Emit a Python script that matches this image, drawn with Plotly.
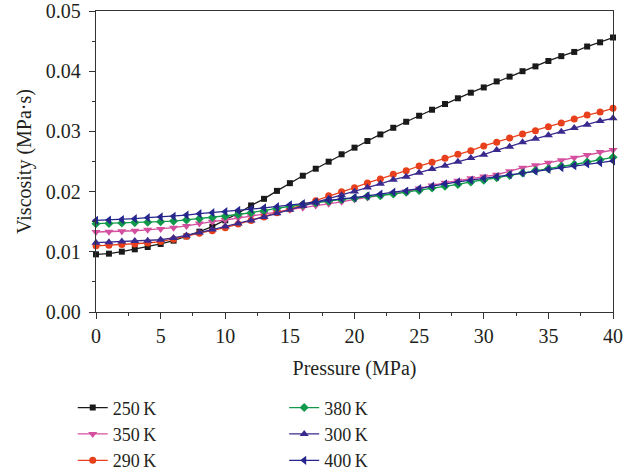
import plotly.graph_objects as go

pressure = list(range(0, 41))

v250 = [0.00958, 0.00969, 0.01002, 0.01041, 0.0108, 0.0113, 0.01185, 0.01257, 0.01334, 0.01417,
        0.01523, 0.0164, 0.0177, 0.0188, 0.02012, 0.0214, 0.02264, 0.0238, 0.02497, 0.0262,
        0.0273, 0.0284, 0.0295, 0.0306, 0.0316, 0.0326, 0.0336, 0.03455, 0.0355, 0.03643,
        0.0373, 0.0383, 0.0391, 0.0400, 0.0408, 0.0417, 0.0425, 0.0432, 0.0441, 0.0448, 0.0456]
v290 = [0.0110, 0.0111, 0.0112, 0.0113, 0.01146, 0.0117, 0.0121, 0.0126, 0.0131, 0.0135,
        0.0140, 0.0146, 0.0152, 0.0158, 0.0165, 0.0171, 0.0178, 0.0185, 0.01932, 0.01999,
        0.02065, 0.02143, 0.0221, 0.02287, 0.02347, 0.02425, 0.02486, 0.02553, 0.0262, 0.0268,
        0.02758, 0.02818, 0.0289, 0.02957, 0.03012, 0.03078, 0.0314, 0.03206, 0.03272, 0.03322, 0.03383]
v300 = [0.01151, 0.0116, 0.0117, 0.0118, 0.01185, 0.0120, 0.0123, 0.0127, 0.0132, 0.0137,
        0.0142, 0.0147, 0.0152, 0.0158, 0.0164, 0.0170, 0.0176, 0.0182, 0.01883, 0.0194,
        0.0200, 0.0207, 0.0213, 0.02198, 0.02248, 0.02314, 0.02375, 0.0243, 0.02497, 0.02558,
        0.02613, 0.0269, 0.02747, 0.02818, 0.02879, 0.02935, 0.02995, 0.03056, 0.03111, 0.03173, 0.03217]
v350 = [0.01329, 0.01333, 0.0134, 0.0135, 0.01365, 0.0138, 0.0140, 0.0143, 0.0147, 0.0150,
        0.01528, 0.0156, 0.0159, 0.0163, 0.0166, 0.0170, 0.0173, 0.0177, 0.0180, 0.0183,
        0.0187, 0.0190, 0.0193, 0.0197, 0.0200, 0.0205, 0.0210, 0.02148, 0.0218, 0.02221,
        0.0225, 0.0228, 0.02336, 0.02397, 0.02437, 0.0248, 0.0252, 0.02563, 0.02608, 0.02658, 0.02691]
v380 = [0.01467, 0.01472, 0.01478, 0.01485, 0.0149, 0.0150, 0.0151, 0.0153, 0.0155, 0.0157,
        0.0159, 0.0162, 0.0165, 0.0168, 0.0172, 0.01755, 0.0178, 0.0181, 0.0184, 0.0187,
        0.0189, 0.0192, 0.0193, 0.0196, 0.0199, 0.0202, 0.0206, 0.0209, 0.0212, 0.0216,
        0.0219, 0.0223, 0.0227, 0.0231, 0.0235, 0.0238, 0.0242, 0.0245, 0.0249, 0.0253, 0.0257]
v400 = [0.01523, 0.01528, 0.01535, 0.0155, 0.01567, 0.0158, 0.0159, 0.0161, 0.01633, 0.0165,
        0.01666, 0.0169, 0.0171, 0.0173, 0.0175, 0.0178, 0.0180, 0.0183, 0.0186, 0.0188,
        0.0190, 0.0193, 0.0196, 0.0199, 0.0201, 0.0205, 0.0209, 0.0213, 0.0216, 0.0219,
        0.0222, 0.0225, 0.0228, 0.0231, 0.0234, 0.0237, 0.0240, 0.0243, 0.0246, 0.0248, 0.0251]

series = [
    ("250\u2009K", v250, "#1a1a1a", "square", 6, "legend"),
    ("350\u2009K", v350, "#d4509f", "triangle-down", 8, "legend"),
    ("290\u2009K", v290, "#e8401c", "circle", 7, "legend"),
    ("380\u2009K", v380, "#10994a", "diamond", 7, "legend2"),
    ("300\u2009K", v300, "#3b2a8e", "triangle-up", 8, "legend2"),
    ("400\u2009K", v400, "#25258d", "triangle-left", 8, "legend2"),
]

FONT = "Liberation Serif"

fig = go.Figure()
for name, vals, color, sym, size, leg in series:
    fig.add_trace(go.Scatter(
        x=pressure, y=vals, name=name, mode="lines+markers",
        line=dict(color=color, width=1.3),
        marker=dict(symbol=sym, size=size, color=color),
        cliponaxis=False, legend=leg,
    ))

axis_common = dict(
    showline=True, linecolor="#333333", linewidth=1.3, mirror=True,
    ticks="outside", ticklen=6, tickwidth=1.3, tickcolor="#333333",
    showgrid=False, zeroline=False,
    tickfont=dict(family=FONT, size=20, color="#231f20"),
)

fig.update_xaxes(
    range=[0, 40], dtick=5, tick0=0,
    minor=dict(dtick=2.5, ticks="outside", ticklen=3, tickcolor="#333333", tickwidth=1.3),
    title=dict(text="Pressure (MPa)", font=dict(family=FONT, size=20, color="#231f20"), standoff=14),
    **axis_common,
)
fig.update_yaxes(
    range=[0, 0.05], dtick=0.01, tick0=0, tickformat=".2f",
    minor=dict(dtick=0.005, ticks="outside", ticklen=3, tickcolor="#333333", tickwidth=1.3),
    title=dict(text="Viscosity (MPa\u00b7s)", font=dict(family=FONT, size=20, color="#231f20"), standoff=8),
    ticklabelstandoff=4,
    **axis_common,
)

legend_common = dict(
    orientation="v", yanchor="top", xanchor="left",
    font=dict(family=FONT, size=18, color="#231f20"),
    bgcolor="rgba(0,0,0,0)", itemwidth=30, tracegroupgap=0,
)
fig.update_layout(
    width=641, height=474,
    margin=dict(l=96, r=28, t=11, b=162, autoexpand=False),
    paper_bgcolor="white", plot_bgcolor="white",
    showlegend=True,
    legend=dict(x=-0.045, y=-0.257, **legend_common),
    legend2=dict(x=0.364, y=-0.257, **legend_common),
)

fig.write_html("out.html")
